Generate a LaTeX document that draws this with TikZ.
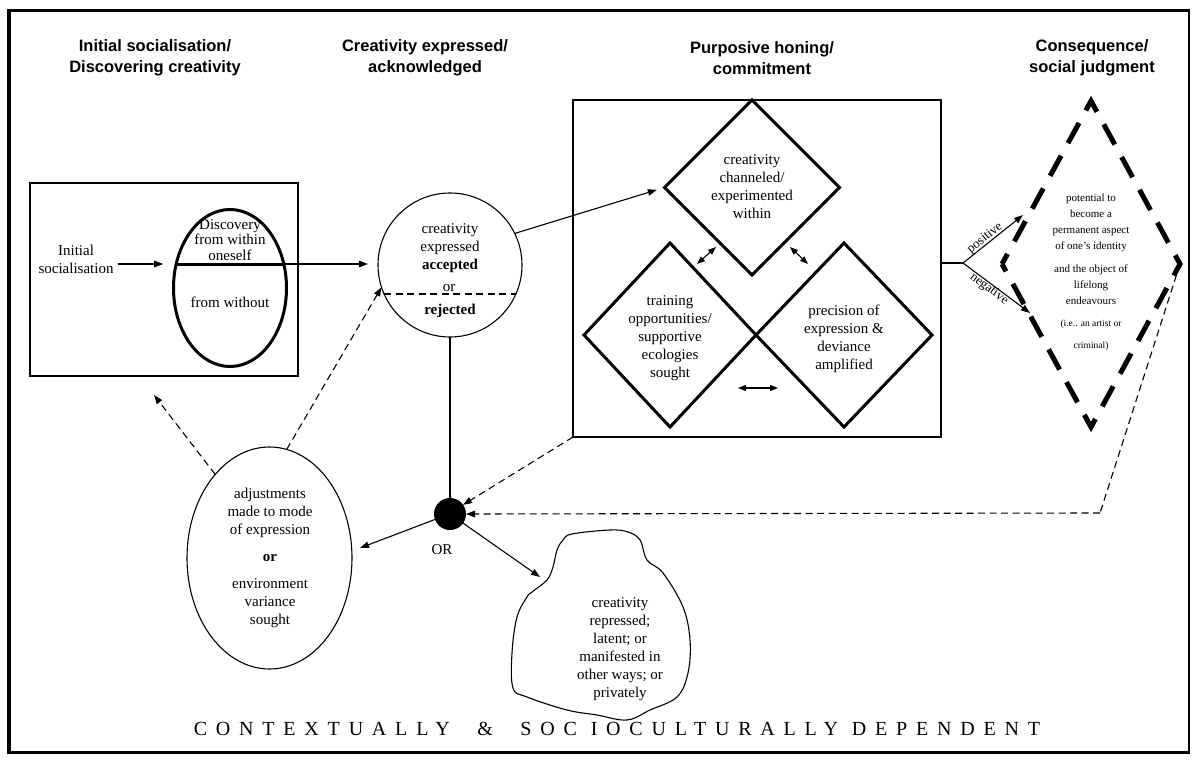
\documentclass[tikz,border=0pt]{standalone}
\usepackage{fontspec}
\setmainfont{Liberation Serif}
\setsansfont{Liberation Sans}
\usetikzlibrary{shapes.geometric,arrows.meta}
\begin{document}
\begin{tikzpicture}[x=1pt,y=-1pt,line join=miter,
  body/.style={font=\fontsize{15}{18}\selectfont,align=center,inner sep=0pt},
  note/.style={font=\fontsize{11}{16}\selectfont,align=center,inner sep=0pt},
  hdr/.style={font=\sffamily\bfseries\fontsize{16.5}{20.5}\selectfont,align=center,inner sep=0pt},
  ln/.style={line width=1.1pt},
  tipx/.style={-{Triangle[length=9pt,width=6.5pt]}},
  arr/.style={ln,tipx},
  dsh/.style={ln,dash pattern=on 7pt off 4.5pt},
  heavy/.style={line width=3pt},
  blank/.style={inner sep=0pt,outer sep=0pt},
  dbl/.style={ln,{Triangle[length=8pt,width=6pt]}-{Triangle[length=8pt,width=6pt]}},
  lbl/.style={font=\fontsize{13}{13}\selectfont,inner sep=0pt},
]
\useasboundingbox (0,0) rectangle (1197,765);

% outer frame
\draw[line width=4pt] (9,753) -- (9,11);
\draw[line width=3pt] (7,11) -- (1190,11);
\draw[line width=1.3pt] (1189,11) -- (1189,753);
\draw[line width=3pt] (7,752) -- (1190,752);

% column headings
\node[hdr] (h1) at (155,58) {Initial socialisation/\\Discovering creativity};
\node[hdr] (h2) at (425,58) {Creativity expressed/\\acknowledged};
\node[hdr] (h3) at (762,58) {Purposive honing/\\commitment};
\node[hdr] (h4) at (1092,58) {Consequence/\\social judgment};

% --- initial socialisation box
\node[blank,draw,ln,minimum width=268,minimum height=193] (lbox) at (164,279.5) {};
\node[body] (init) at (76,259) {Initial\\socialisation};
\node[blank,ellipse,draw,heavy,minimum width=113,minimum height=157] (disc) at (230,288) {};
\coordinate (dl) at (176.2,264);
\coordinate (dr) at (283.8,264);
\draw[heavy] (dl) -- (dr);
\node[body,font=\fontsize{15}{15.5}\selectfont] (within) at (230,240) {Discovery\\from within\\oneself};
\node[body] (without) at (230,302) {from without};
\draw[arr,shorten <=4pt,shorten >=13pt] (init.east |- dl) -- (dl);

% --- expressed / acknowledged circle
\node[blank,circle,draw,ln,minimum size=144] (acc) at (450,265) {};
\node[body] (acctxt) at (450,248) {creativity\\expressed\\\textbf{accepted}};
\node[body] (or1) at (449,288) {or};
\node[body] (rej) at (450,311) {\textbf{rejected}};
\draw[dsh] (384.1,294) -- (515.9,294);
\draw[arr,shorten >=10pt] (dr) -- (dr -| acc.west);

% --- purposive honing box with three diamonds
\node[blank,draw,line width=1.5pt,minimum width=368,minimum height=337] (pbox) at (757,268.5) {};
\node[blank,diamond,draw,heavy,minimum width=175,minimum height=175] (chan) at (752,187.5) {};
\node[blank,diamond,draw,heavy,minimum width=172,minimum height=184] (train) at (670,335) {};
\node[blank,diamond,draw,heavy,minimum width=176,minimum height=184] (prec) at (844,335) {};
\node[body] (chantxt) at (752,187) {creativity\\channeled/\\experimented\\within};
\node[body] (traintxt) at (670,338) {training\\opportunities/\\supportive\\ecologies\\sought};
\node[body] (prectxt) at (844,339) {precision of\\expression \&\\deviance\\amplified};
\coordinate (a1) at (697,264); \coordinate (a2) at (716,247);
\coordinate (b1) at (790,247); \coordinate (b2) at (808,264);
\coordinate (c1) at (738,388); \coordinate (c2) at (778,388);
\draw[dbl] (a1) -- (a2);
\draw[dbl] (b1) -- (b2);
\draw[dbl] (c1) -- (c2);
\draw[arr,shorten >=8pt] (acc.26) -- (chan.west);

% --- consequence / social judgment (heavy dashed diamond)
\node[blank,diamond,minimum width=178,minimum height=326] (judg) at (1091,264) {};
\draw[line width=5pt,dash pattern=on 23pt off 14.3pt,dash phase=11.5pt]
  (judg.west) -- (judg.north) -- (judg.east) -- (judg.south) -- cycle;
\node[note] (judgtxt) at (1091,272) {potential to\\become a\\permanent aspect\\of one's identity\\[7pt]
  and the object of\\lifelong\\endeavours\\[6pt]
  {\fontsize{9.5}{12}\selectfont (i.e.. an artist or}\\[6pt]
  {\fontsize{9.5}{12}\selectfont criminal)}};
\coordinate (br) at (963,263);
\coordinate (ptip) at (1023,215);
\coordinate (ntip) at (1030,313);
\draw[ln] (pbox.east |- br) -- (br);
\draw[arr] (br) -- (ptip);
\draw[arr] (br) -- (ntip);
\node[lbl,rotate=38.7] (postxt) at (985,238) {positive};
\node[lbl,rotate=-36.7] (negtxt) at (989,289) {negative};

% --- OR junction
\node[blank,circle,fill,minimum size=32] (dot) at (450,514) {};
\node[body] (ortxt) at (442,550) {OR};
\draw[ln] (acc.south) -- (dot.north);
\draw[dsh,tipx] (pbox.south west) -- (dot.35);
\coordinate (jc) at (1100,513);
\draw[dsh] (judg.east) -- (jc);
\draw[dsh,tipx] (jc) -- (dot.east);

% --- adjustments ellipse
\node[blank,ellipse,draw,ln,minimum width=165,minimum height=222] (adj) at (269.5,558) {};
\node[body] (adjtxt) at (270,558) {adjustments\\made to mode\\of expression\\[9pt]\textbf{or}\\[9pt]environment\\variance\\sought};
\coordinate (adjtip) at (360,548);
\draw[arr] (dot.200) -- (adjtip);
\coordinate (lbtip) at (154,395);
\draw[dsh,tipx] (adj.123) -- (lbtip);
\draw[dsh,tipx] (adj.81) -- (acc.198);

% --- repressed cloud
\draw[ln] plot[smooth cycle,tension=0.6] coordinates {
  (610,530) (628,532) (640,540) (647,560) (663,573) (683,607) (690,640)
  (688,673) (677,697) (650,710) (627,720) (597,715) (567,710) (527,697)
  (513,688) (512,653) (517,617) (527,597) (532,592) (547,580) (553,567)
  (557,550) (563,540) (572,534)};
\node[body] (cloud) at (620,649) {creativity\\repressed;\\latent; or\\manifested in\\other ways; or\\privately};
\coordinate (cloudtip) at (540,577);
\draw[arr] (dot.-35) -- (cloudtip);

% --- footer
\node[inner sep=0pt,font=\fontsize{20}{20}\selectfont\addfontfeature{LetterSpace=44}] (foot) at (617,729)
  {CONTEXTUALLY \ \& \ SOC IOCULTURALLY DEPENDENT};
\end{tikzpicture}
\end{document}
